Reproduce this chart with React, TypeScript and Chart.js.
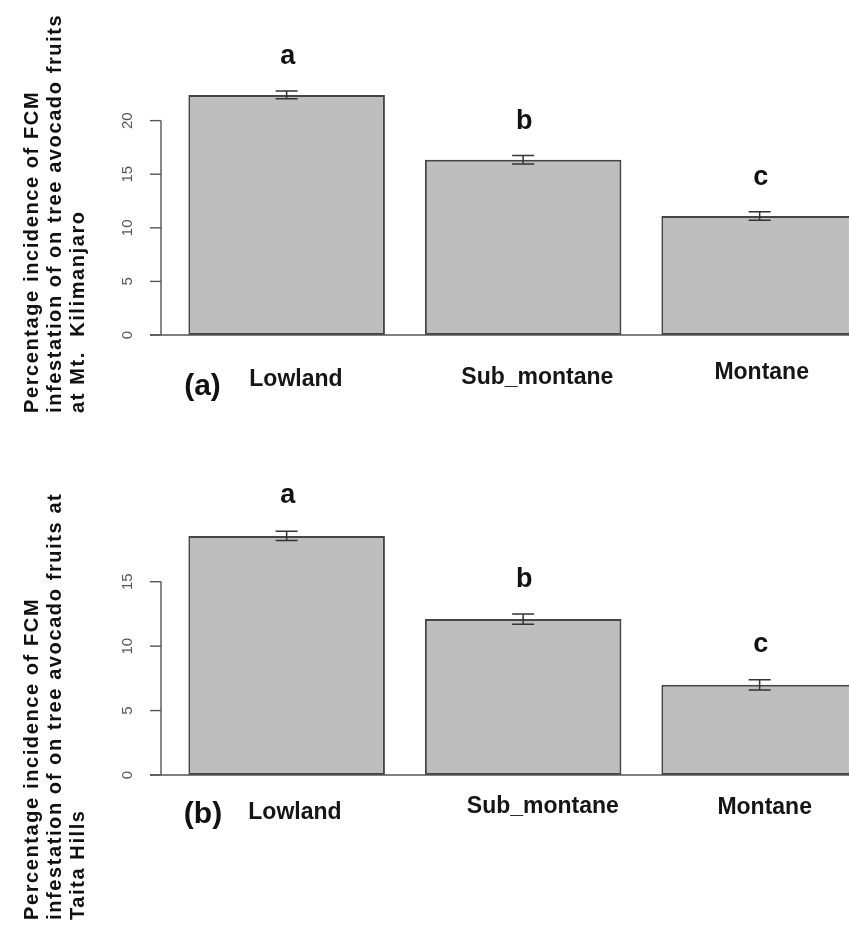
import React, { useEffect, useRef } from 'react';
import { Chart, registerables } from 'chart.js';

Chart.register(...registerables);

// ---- data ----
const categories = ['Lowland', 'Sub_montane', 'Montane'];

const kiliMeans = [22.4, 16.35, 11.1];
const kiliErrors = [0.37, 0.4, 0.4];
const kiliLetters = ['a', 'b', 'c'];
const kiliTicks = [0, 5, 10, 15, 20];
const kiliTitle = [
  'Percentage incidence of FCM',
  'infestation of on tree avocado fruits',
  'at Mt.  Kilimanjaro',
];
const kiliTag = '(a)';

const taitaMeans = [18.55, 12.1, 7.0];
const taitaErrors = [0.36, 0.4, 0.4];
const taitaLetters = ['a', 'b', 'c'];
const taitaTicks = [0, 5, 10, 15];
const taitaTitle = [
  'Percentage incidence of FCM',
  'infestation of on tree avocado fruits at',
  'Taita Hills',
];
const taitaTag = '(b)';

const FONT = '"Liberation Sans", Arial, Helvetica, sans-serif';

type Spec = {
  means: number[];
  errors: number[];
  letters: string[];
  ticks: number[];
  title: string[];
  tag: string;
  yMax: number;
  height: number;
  padTop: number;
  padBottom: number;
  labelDx: number[];
  labelDy: number[];
  letterDy: number;
  tagDx: number;
  tagDy: number;
  titleStartY: number;
};

function decorPlugin(spec: Spec) {
  return {
    id: 'panelDecor',
    beforeDraw(chart: any) {
      const ctx = chart.ctx;
      ctx.save();
      ctx.fillStyle = '#ffffff';
      ctx.fillRect(0, 0, chart.width, chart.height);
      ctx.restore();
    },
    afterDatasetsDraw(chart: any) {
      const ctx = chart.ctx as CanvasRenderingContext2D;
      const ys = chart.scales.y;
      const area = chart.chartArea;
      const meta = chart.getDatasetMeta(0);
      const axisX = area.left - 7.4;
      const y0 = ys.getPixelForValue(0);
      ctx.save();
      ctx.strokeStyle = '#555555';
      ctx.lineWidth = 1.4;
      // baseline
      ctx.beginPath();
      ctx.moveTo(axisX - 11, y0);
      ctx.lineTo(chart.width, y0);
      ctx.stroke();
      // y axis line between first and last tick
      const t = spec.ticks;
      ctx.beginPath();
      ctx.moveTo(axisX, ys.getPixelForValue(t[0]));
      ctx.lineTo(axisX, ys.getPixelForValue(t[t.length - 1]));
      ctx.stroke();
      t.forEach((v) => {
        const py = ys.getPixelForValue(v);
        ctx.beginPath();
        ctx.moveTo(axisX - 11, py);
        ctx.lineTo(axisX, py);
        ctx.stroke();
        ctx.save();
        ctx.translate(axisX - 33, py);
        ctx.rotate(-Math.PI / 2);
        ctx.font = `15px ${FONT}`;
        ctx.fillStyle = '#555555';
        ctx.textAlign = 'center';
        ctx.textBaseline = 'middle';
        ctx.fillText(String(v), 0, 0);
        ctx.restore();
      });

      // error bars and letters
      meta.data.forEach((bar: any, i: number) => {
        const m = spec.means[i];
        const e = spec.errors[i];
        const x = bar.x;
        const yt = ys.getPixelForValue(m + e);
        const yb = ys.getPixelForValue(m - e);
        ctx.strokeStyle = '#333333';
        ctx.lineWidth = 1.5;
        ctx.beginPath();
        ctx.moveTo(x, yt);
        ctx.lineTo(x, yb);
        ctx.moveTo(x - 11, yt);
        ctx.lineTo(x + 11, yt);
        ctx.moveTo(x - 11, yb);
        ctx.lineTo(x + 11, yb);
        ctx.stroke();

        ctx.fillStyle = '#111111';
        ctx.font = `bold 27px ${FONT}`;
        ctx.textAlign = 'center';
        ctx.textBaseline = 'middle';
        ctx.fillText(spec.letters[i], x + 1, ys.getPixelForValue(m) + spec.letterDy);

        ctx.font = `bold 23px ${FONT}`;
        ctx.fillStyle = '#151515';
        ctx.fillText(categories[i], x + spec.labelDx[i], y0 + spec.labelDy[i]);
      });

      // panel tag
      ctx.font = `bold 30px ${FONT}`;
      ctx.fillStyle = '#111111';
      ctx.textAlign = 'center';
      ctx.textBaseline = 'middle';
      ctx.fillText(spec.tag, axisX + spec.tagDx, y0 + spec.tagDy);

      // y title (three lines, rotated)
      const xs = [32, 55, 78];
      spec.title.forEach((line, k) => {
        ctx.save();
        ctx.translate(xs[k], spec.titleStartY);
        ctx.rotate(-Math.PI / 2);
        ctx.font = `bold 20px ${FONT}`;
        (ctx as any).letterSpacing = '1.6px';
        ctx.fillStyle = '#111111';
        ctx.textAlign = 'left';
        ctx.textBaseline = 'middle';
        ctx.fillText(line, 0, 0);
        ctx.restore();
      });
      ctx.restore();
    },
  };
}

function Panel({ spec, top }: { spec: Spec; top: number }) {
  const ref = useRef<HTMLCanvasElement | null>(null);
  useEffect(() => {
    const canvas = ref.current;
    if (!canvas) return;
    const chart = new Chart(canvas, {
      type: 'bar',
      data: {
        labels: categories,
        datasets: [
          {
            data: spec.means,
            backgroundColor: '#bebebe',
            borderColor: '#454545',
            borderWidth: 2,
            borderSkipped: false,
            barPercentage: 1,
            categoryPercentage: 0.831,
          },
        ],
      },
      options: {
        responsive: false,
        animation: false,
        devicePixelRatio: 1,
        layout: {
          padding: { left: 168.4, right: 22.1, top: spec.padTop, bottom: spec.padBottom },
        },
        plugins: { legend: { display: false }, tooltip: { enabled: false }, title: { display: false } },
        scales: {
          x: { type: 'category', display: false, grid: { display: false } },
          y: { type: 'linear', min: 0, max: spec.yMax, display: false, grid: { display: false } },
        },
      },
      plugins: [decorPlugin(spec)],
    } as any);
    return () => chart.destroy();
  }, [spec]);
  return (
    <canvas
      ref={ref}
      width={900}
      height={spec.height}
      style={{ position: 'absolute', left: 0, top, width: 900, height: spec.height }}
    />
  );
}

const specA: Spec = {
  means: kiliMeans,
  errors: kiliErrors,
  letters: kiliLetters,
  ticks: kiliTicks,
  title: kiliTitle,
  tag: kiliTag,
  yMax: 27,
  height: 464,
  padTop: 45.6,
  padBottom: 129,
  labelDx: [9.3, 14.2, 2],
  labelDy: [45, 43, 38],
  letterDy: -38,
  tagDx: 41.5,
  tagDy: 52,
  titleStartY: 413,
};

const specB: Spec = {
  means: taitaMeans,
  errors: taitaErrors,
  letters: taitaLetters,
  ticks: taitaTicks,
  title: taitaTitle,
  tag: taitaTag,
  yMax: 20,
  height: 465,
  padTop: 53.26,
  padBottom: 154,
  labelDx: [8.3, 19.7, 5],
  labelDy: [38, 32, 33],
  letterDy: -40,
  tagDx: 42,
  tagDy: 40,
  titleStartY: 456,
};

export default function App() {
  return (
    <div
      style={{
        position: 'absolute',
        left: 0,
        top: 0,
        width: 849,
        height: 929,
        overflow: 'hidden',
        background: '#ffffff',
      }}
    >
      <Panel spec={specA} top={0} />
      <Panel spec={specB} top={464} />
    </div>
  );
}
